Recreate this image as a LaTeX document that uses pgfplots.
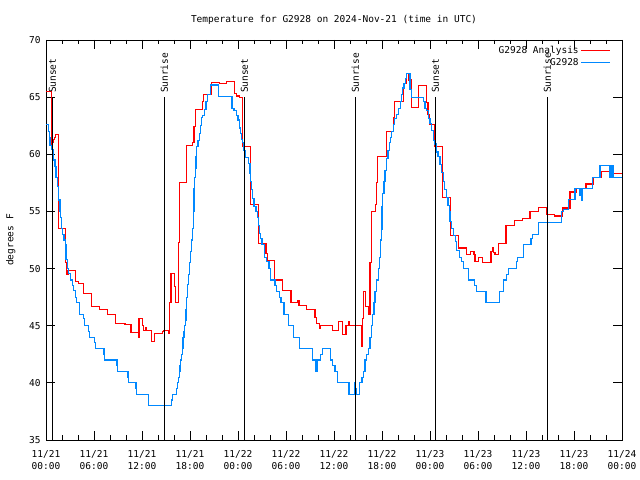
\documentclass[border=0pt]{standalone}
\usepackage{fontspec}
\setmainfont{DejaVu Sans Mono}
\usepackage{pgfplots}
\usepackage{pgfplotstable}
\pgfplotsset{compat=1.18}
\definecolor{gred}{RGB}{255,0,0}
\definecolor{gblue}{RGB}{0,136,255}
\newcommand{\gf}{\fontsize{9.5bp}{12bp}\selectfont}

\pgfplotstableread{
x y
0 65.5
0.71 60.8
0.8 61.0
0.9 61.3
1.05 61.5
1.2 61.7
1.56 53.5
2.46 50.5
2.58 49.5
2.75 49.8
3.67 48.9
4.04 48.7
4.67 47.8
5.71 46.7
6.67 46.4
7.71 46.0
8.71 45.2
9.875 45.1
10.625 44.4
11.54 44.0
11.63 45.6
12.04 45.0
12.17 44.6
12.4 44.8
12.58 44.6
13.2 43.6
13.54 44.3
14.58 44.5
14.67 44.6
15.29 44.3
15.42 47.0
15.625 49.6
16.04 48.4
16.17 47.0
16.54 52.3
16.67 57.5
17.58 60.8
18.33 61.0
18.5 62.4
18.67 63.9
19.58 64.6
19.7 65.2
20.71 66.3
21.67 66.2
22.58 66.4
23.54 65.3
23.83 65.1
24.17 65.0
24.58 60.7
25.55 55.6
26.6 52.2
27.5 51.3
27.67 50.7
28.54 49.0
29.58 48.1
30.625 47.0
31.46 47.2
31.625 46.8
32.58 46.4
33.625 45.7
33.83 45.2
34.17 44.8
34.25 45.0
35.83 44.6
36.54 45.4
37.04 44.2
37.5 45.0
37.79 45.4
37.92 45.0
39.46 43.2
39.55 45.6
39.67 48.0
39.92 46.7
40.29 46.0
40.5 50.5
40.71 55.0
41.2 55.6
41.35 57.5
41.46 59.8
42.58 62.0
43.42 63.2
43.54 64.6
44.67 66.2
45.08 67.1
45.375 66.5
45.71 64.1
46.54 66.0
47.58 64.5
47.75 63.5
47.92 62.6
48.625 60.7
49.58 56.2
50.6 52.9
51.54 51.8
52.58 51.2
53.08 51.5
53.5 51.2
53.625 50.6
54.04 51.0
54.58 50.5
55.625 51.5
55.83 51.8
55.95 51.4
56.125 51.2
56.54 52.2
57.5 53.8
58.54 54.2
59.58 54.4
60.5 55.0
61.54 55.35
62.58 54.7
63.54 54.6
64.54 55.3
65.5 56.7
66.25 57.0
67.5 57.4
68.4 58.0
69.46 58.5
70.5 58.3
72 58.3
}\analysis

\pgfplotstableread{
x y
0 62.6
0.29 62.0
0.42 61.5
0.5 60.8
0.71 60.4
0.92 59.5
1.125 58.9
1.25 58.0
1.42 57.2
1.54 56.0
1.75 55.0
1.83 54.5
1.96 53.5
2.04 53.0
2.25 52.5
2.42 52.1
2.5 50.8
2.67 50.0
2.83 49.6
3.04 49.0
3.33 48.5
3.42 48.1
3.67 47.5
3.79 47.0
4.17 46.0
4.67 45.6
4.83 45.0
5.33 44.5
5.42 44.0
6.04 43.5
6.21 43.0
7.25 42.5
7.29 42.0
8.875 41.5
8.92 41.0
10.25 40.5
10.29 40.0
11.25 39.5
11.29 39.0
12.79 38.5
12.83 38.0
15.71 38.5
15.83 39.0
16.33 39.5
16.42 40.0
16.58 40.5
16.67 41.0
16.75 41.5
16.83 42.0
16.96 42.5
17.08 43.0
17.125 44.0
17.25 44.5
17.33 45.0
17.42 45.5
17.5 46.4
17.6 47.5
17.71 48.6
17.83 49.5
17.96 50.5
18.08 51.5
18.21 52.5
18.33 53.5
18.42 55.0
18.5 57.0
18.6 58.0
18.67 58.8
18.75 59.8
18.83 60.7
19.0 61.2
19.17 61.8
19.3 62.5
19.46 63.2
19.6 63.4
19.79 63.9
20.0 64.6
20.21 65.25
20.54 66.06
21.54 65.04
23.25 64.0
23.5 63.8
23.83 63.4
24.0 63.0
24.17 62.3
24.3 61.8
24.45 61.3
24.58 61.0
24.75 60.3
24.96 59.7
25.29 59.2
25.5 58.3
25.6 57.6
25.7 56.9
25.83 56.1
26.0 55.4
26.25 55.0
26.4 54.5
26.54 53.8
26.67 53.1
26.83 52.6
27.0 52.1
27.29 51.0
27.58 50.6
27.875 50.0
28.08 49.0
28.625 48.5
28.83 48.0
29.17 47.5
29.375 47.0
29.75 46.0
30.33 45.0
30.96 44.0
31.71 43.0
33.29 42.0
33.75 41.0
33.92 42.0
34.33 42.5
34.54 43.0
35.58 42.0
35.83 41.5
36.125 41.0
36.42 40.0
37.875 39.0
38.54 40.0
38.62 39.0
38.75 39.5
38.85 39.0
39.17 40.0
39.5 40.5
39.67 41.0
39.875 42.0
40.08 42.5
40.29 43.0
40.5 44.0
40.71 45.0
40.83 46.0
41.0 47.0
41.125 48.0
41.33 49.0
41.54 50.0
41.67 51.0
41.83 52.5
41.92 53.4
42.0 55.4
42.08 56.6
42.25 57.6
42.375 58.6
42.58 59.6
42.75 60.3
42.92 61.0
43.05 61.5
43.21 62.0
43.4 62.6
43.54 63.15
43.8 63.5
44.04 64.0
44.3 64.6
44.45 65.2
44.58 65.8
44.75 66.2
44.9 66.6
45.08 67.1
45.5 65.7
45.71 65.0
47.17 64.6
47.375 64.0
47.6 63.8
47.79 63.1
48.0 62.7
48.21 62.1
48.42 61.2
48.6 60.9
48.75 60.2
49.0 59.8
49.25 59.1
49.45 58.4
49.67 57.6
49.85 56.9
50.08 56.2
50.25 55.5
50.42 55.0
50.5 54.1
50.7 53.5
50.92 52.9
51.15 52.4
51.33 51.6
51.67 51.0
51.9 50.6
52.17 50.0
52.79 49.0
53.6 48.5
53.83 48.0
55.0 47.0
56.67 48.0
57.17 49.0
57.6 49.5
57.79 50.0
58.83 50.6
58.96 51.0
59.67 52.1
60.62 52.6
60.79 53.0
61.54 54.05
64.46 55.0
64.67 55.2
65.29 56.06
66.125 57.0
66.75 56.4
66.85 57.0
66.96 56.0
67.1 57.0
68.33 58.0
69.25 59.0
70.5 58.0
70.6 59.0
70.7 58.0
70.8 59.0
70.92 58.0
72 58.0
}\station

\begin{document}
\begin{tikzpicture}
\path[use as bounding box] (0,0) rectangle (640bp,480bp);
\begin{axis}[
  at={(46bp,40bp)}, anchor=south west,
  scale only axis, width=576bp, height=400bp,
  xmin=0, xmax=72, ymin=35, ymax=70,
  axis line style={line width=0.9bp},
  font=\gf,
  /pgf/number format/assume math mode=true,
  xtick={0,6,...,72},
  xticklabels={11/21\\00:00,11/21\\06:00,11/21\\12:00,11/21\\18:00,11/22\\00:00,11/22\\06:00,11/22\\12:00,11/22\\18:00,11/23\\00:00,11/23\\06:00,11/23\\12:00,11/23\\18:00,11/24\\00:00},
  xticklabel style={align=center, font=\gf, yshift=-7bp},
  minor x tick num=2,
  ytick={35,40,...,70},
  yticklabel style={font=\gf, xshift=-2bp},
  tick style={black, line width=0.9bp},
  major tick length=9bp, minor tick length=4.5bp,
  title={Temperature for G2928 on 2024-Nov-21 (time in UTC)},
  title style={at={(0.5,1)}, anchor=center, yshift=14bp, font=\gf},
  ylabel={degrees F},
  ylabel style={at={(axis description cs:-0.061,0.5)}, anchor=center, font=\gf},
  legend style={at={(1,1)}, anchor=north east, draw=none, fill=none, font=\gf,
    xshift=-8bp, yshift=-2bp, row sep=-0.5bp,
    /tikz/every even column/.append style={column sep=7bp}},
  legend plot pos=right,
  legend cell align=right,
  legend image code/.code={\draw[#1] (0bp,0bp) -- (29bp,0bp);},
]
\addplot[const plot, gred, line width=1.1bp] table[x=x,y=y] {\analysis};
\addlegendentry{G2928 Analysis}
\addplot[const plot, gblue, line width=1.1bp] table[x=x,y=y] {\station};
\addlegendentry{G2928}

\addplot[black, line width=1bp, forget plot] coordinates {(0.79,35) (0.79,65)};
\addplot[black, line width=1bp, forget plot] coordinates {(14.79,35) (14.79,65)};
\addplot[black, line width=1bp, forget plot] coordinates {(24.79,35) (24.79,65)};
\addplot[black, line width=1bp, forget plot] coordinates {(38.67,35) (38.67,65)};
\addplot[black, line width=1bp, forget plot] coordinates {(48.67,35) (48.67,65)};
\addplot[black, line width=1bp, forget plot] coordinates {(62.67,35) (62.67,65)};
\node[rotate=90, anchor=west, inner xsep=4bp, inner ysep=0pt, font=\gf] at (axis cs:0.79,65) {Sunset};
\node[rotate=90, anchor=west, inner xsep=4bp, inner ysep=0pt, font=\gf] at (axis cs:14.79,65) {Sunrise};
\node[rotate=90, anchor=west, inner xsep=4bp, inner ysep=0pt, font=\gf] at (axis cs:24.79,65) {Sunset};
\node[rotate=90, anchor=west, inner xsep=4bp, inner ysep=0pt, font=\gf] at (axis cs:38.67,65) {Sunrise};
\node[rotate=90, anchor=west, inner xsep=4bp, inner ysep=0pt, font=\gf] at (axis cs:48.67,65) {Sunset};
\node[rotate=90, anchor=west, inner xsep=4bp, inner ysep=0pt, font=\gf] at (axis cs:62.67,65) {Sunrise};
\end{axis}
\end{tikzpicture}
\end{document}
